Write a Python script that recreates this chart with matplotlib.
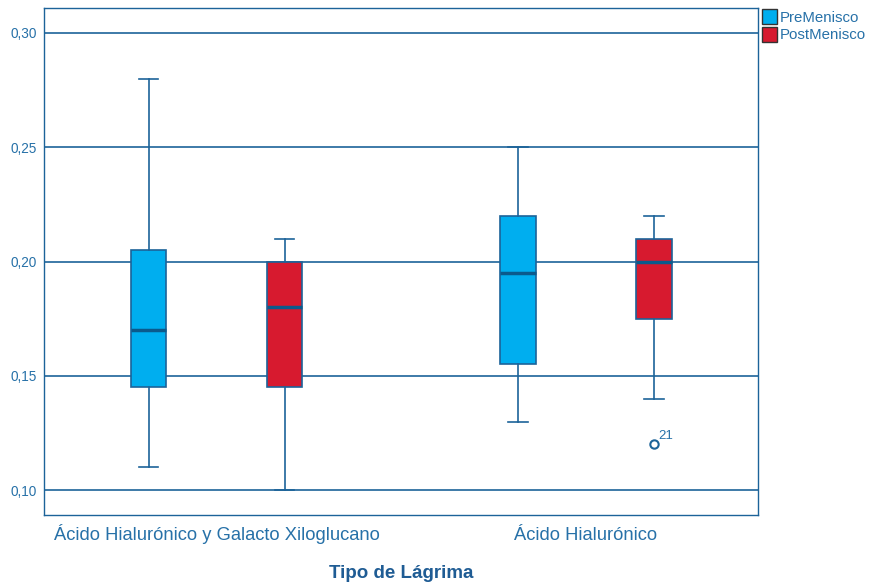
import numpy as np
import matplotlib
matplotlib.use("Agg")
from matplotlib import pyplot as plt
from matplotlib.patches import Patch

plt.rcParams['font.family'] = ['Liberation Sans', 'DejaVu Sans']

# data
groups = ["Ácido Hialurónico y Galacto Xiloglucano", "Ácido Hialurónico"]
series = ["PreMenisco", "PostMenisco"]
colors = ["#00AEEF", "#D71A2F"]

pre_low = [0.11, 0.13]
pre_q1 = [0.145, 0.155]
pre_med = [0.17, 0.195]
pre_q3 = [0.205, 0.22]
pre_high = [0.28, 0.25]
pre_fliers = [[], []]

post_low = [0.10, 0.14]
post_q1 = [0.145, 0.175]
post_med = [0.18, 0.20]
post_q3 = [0.20, 0.21]
post_high = [0.21, 0.22]
post_fliers = [[], [0.12]]
flier_labels = [[], ["21"]]

line_c = "#1C6399"
text_c = "#2771A8"

fig = plt.figure(figsize=(8.72, 5.85), dpi=100)
ax = fig.add_axes([44/872, 1-515/585, 714/872, 507/585])

offset = 0.184
width = 0.095

def make_stats(low, q1, med, q3, high, fl):
    return [dict(whislo=low[i], q1=q1[i], med=med[i], q3=q3[i], whishi=high[i], fliers=fl[i]) for i in range(len(low))]

pre_stats = make_stats(pre_low, pre_q1, pre_med, pre_q3, pre_high, pre_fliers)
post_stats = make_stats(post_low, post_q1, post_med, post_q3, post_high, post_fliers)

x = np.arange(len(groups))
for stats, pos, col in [(pre_stats, x - offset, colors[0]), (post_stats, x + offset, colors[1])]:
    ax.bxp(stats, positions=pos, widths=width, patch_artist=True, showfliers=True,
           boxprops=dict(facecolor=col, edgecolor=line_c, linewidth=1.2),
           medianprops=dict(color="#0B5A8C", linewidth=2.5),
           whiskerprops=dict(color=line_c, linewidth=1.2),
           capprops=dict(color=line_c, linewidth=1.2),
           capwidths=width * 0.55,
           flierprops=dict(marker="o", markerfacecolor="white", markeredgecolor=line_c,
                           markersize=6, markeredgewidth=1.5),
           zorder=3)

for i, (vals, labs) in enumerate(zip(post_fliers, flier_labels)):
    for v, lab in zip(vals, labs):
        ax.annotate(lab, (x[i] + offset, v), xytext=(3, 4), textcoords="offset points",
                    fontsize=9.5, color=text_c)

ax.set_xlim(-0.467, 1.4655)
ax.set_ylim(0.0891, 0.3109)
ax.set_yticks([0.10, 0.15, 0.20, 0.25, 0.30])
ax.set_yticklabels(["0,10", "0,15", "0,20", "0,25", "0,30"], fontsize=9.8, color=text_c)
ax.yaxis.grid(True, color=line_c, linewidth=1.2, zorder=0)
ax.set_axisbelow(True)
ax.set_xticks(x)
ax.set_xticklabels(groups, fontsize=13.2, color=text_c, va="baseline")
ax.tick_params(axis="x", length=0, pad=18)
ax.tick_params(axis="y", length=0, pad=5)
for s in ax.spines.values():
    s.set_color(line_c)
    s.set_linewidth(1.0)

ax.set_xlabel("Tipo de Lágrima", fontsize=13.5, fontweight="bold", color="#1F5C94", labelpad=15)

handles = [Patch(facecolor=c, edgecolor="#333333", label=l) for c, l in zip(colors, series)]
leg = fig.legend(handles=handles, loc="upper left", bbox_to_anchor=(759/872, 1-6/585),
                 frameon=False, fontsize=10.8, handlelength=1.0, handleheight=1.2,
                 handletextpad=0.2, labelspacing=0.12, borderaxespad=0, borderpad=0.2)
for t in leg.get_texts():
    t.set_color(text_c)

fig.savefig("out.png", dpi=100)
